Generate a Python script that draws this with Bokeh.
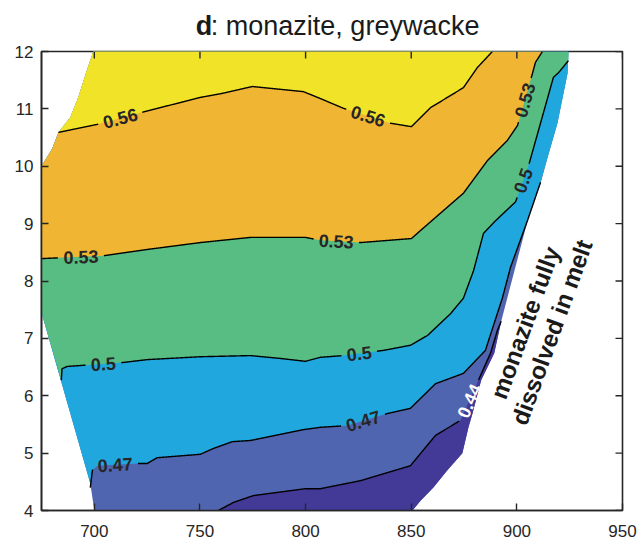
import numpy as np
from bokeh.plotting import figure
from bokeh.layouts import column
from bokeh.models import Range1d, FixedTicker
from bokeh.core.properties import value
from bokeh.embed import file_html
from bokeh.resources import INLINE

# ---- data: temperature (deg C) and pressure (kbar) ----
x_ticks = [700, 750, 800, 850, 900, 950]
y_ticks = [4, 5, 6, 7, 8, 9, 10, 11, 12]

# outline of the field where monazite is stable (clockwise)
domain_T = [700.0, 698.1, 675.0, 675.0, 680.1, 683.0, 688.6, 692.4, 695.7, 699.5,
            924.4, 924.0, 919.2, 914.5, 911.2, 905.5, 892.6, 889.3, 883.1, 879.0,
            877.1, 874.2, 867.1, 860.5, 854.4, 850.6, 700.0]
domain_P = [4.0, 4.47, 7.45, 10.0, 10.31, 10.59, 10.85, 11.20, 11.58, 12.0,
            12.0, 11.62, 10.75, 10.15, 9.70, 9.11, 7.30, 6.74, 6.27, 5.69,
            5.45, 5.0, 4.70, 4.40, 4.17, 4.0, 4.0]

levels = [0.44, 0.47, 0.5, 0.53, 0.56]

c044_T = [758.7, 765.8, 775.3, 799.9, 807.0, 826.0, 849.6, 861.5, 873.3, 887.5, 890.8, 892.6]
c044_P = [4.0, 4.14, 4.26, 4.38, 4.38, 4.52, 4.78, 5.31, 5.57, 6.74, 7.14, 7.30]

c047_T = [698.1, 699.1, 701.4, 720.4, 725.1, 729.8, 750.2, 756.3, 765.3, 773.9, 799.0,
          807.0, 819.8, 838.7, 849.6, 861.5, 874.7, 885.1, 893.2, 897.0, 905.0, 911.2]
c047_P = [4.40, 4.70, 4.78, 4.82, 4.82, 4.92, 4.98, 5.08, 5.20, 5.22, 5.41,
          5.45, 5.48, 5.69, 5.78, 6.21, 6.39, 6.79, 7.71, 8.24, 9.05, 9.72]

c050_T = [684.4, 684.7, 687.1, 713.7, 725.1, 750.2, 773.9, 788.1, 799.9, 807.0, 817.9, 836.8,
          849.6, 857.7, 868.6, 874.7, 879.5, 884.2, 889.9, 899.4, 906.0, 917.3, 919.7, 924.4]
c050_P = [6.27, 6.47, 6.51, 6.58, 6.63, 6.68, 6.70, 6.65, 6.60, 6.67, 6.70, 6.79,
          6.88, 7.05, 7.43, 7.70, 8.18, 8.83, 9.05, 9.38, 10.07, 11.55, 11.63, 11.84]

c053_T = [675.0, 704.3, 725.1, 750.2, 773.9, 799.9, 807.0, 826.0, 850.1, 854.4,
          874.7, 886.1, 895.5, 900.3, 907.4, 908.8, 912.1]
c053_P = [8.39, 8.44, 8.55, 8.67, 8.76, 8.76, 8.71, 8.67, 8.74, 8.88,
          9.53, 10.10, 10.45, 10.71, 11.62, 11.81, 12.0]

c056_T = [683.0, 701.4, 720.4, 750.2, 760.6, 774.8, 799.0, 807.0, 817.9, 840.2,
          850.1, 859.1, 874.7, 881.3, 888.4]
c056_P = [10.59, 10.73, 10.92, 11.20, 11.27, 11.39, 11.30, 11.18, 11.01, 10.75,
          10.69, 11.02, 11.37, 11.72, 12.0]

# inline contour labels
label_level = [0.56, 0.56, 0.53, 0.53, 0.53, 0.5, 0.5, 0.5, 0.47, 0.47, 0.44]
label_T = [712.3, 829.3, 693.8, 814.5, 904.1, 704.3, 825.5, 903.1, 709.9, 827.4, 876.6]
label_P = [10.83, 10.85, 8.39, 8.67, 11.15, 6.53, 6.67, 9.75, 4.75, 5.53, 5.92]

band_colors = ["#433996", "#5065B0", "#20A8DE", "#57BD82", "#F0B532", "#F1E428"]

# ---- layout ----
W = 640
TITLE_H = 41
H = 540 - TITLE_H
BL, BR, BT, BB = 41, 18, 10, 30
X0, X1, Y0, Y1 = 675, 950, 4, 12
SX = (W - BL - BR) / (X1 - X0)   # px per deg C
SY = (H - BT - BB) / (Y1 - Y0)   # px per kbar
TICK = 7                          # inward tick length, px

contours = {0.44: (c044_T, c044_P), 0.47: (c047_T, c047_P), 0.5: (c050_T, c050_P),
            0.53: (c053_T, c053_P), 0.56: (c056_T, c056_P)}

bx = np.array(domain_T)
by = np.array(domain_P)
seg = np.hypot(np.diff(bx) * SX, np.diff(by) * SY)
cum = np.concatenate([[0.0], np.cumsum(seg)])


def locate(x, y):
    """Arc-length position of a point projected onto the domain outline."""
    best_d, best_s = None, 0.0
    for i in range(len(bx) - 1):
        ax, ay = bx[i] * SX, by[i] * SY
        dx, dy = (bx[i + 1] - bx[i]) * SX, (by[i + 1] - by[i]) * SY
        t = np.clip(((x * SX - ax) * dx + (y * SY - ay) * dy) / (dx * dx + dy * dy), 0, 1)
        d = np.hypot(ax + t * dx - x * SX, ay + t * dy - y * SY)
        if best_d is None or d < best_d:
            best_d, best_s = d, cum[i] + t * seg[i]
    return best_s


def upper_region(cx, cy):
    sa, sb = locate(cx[0], cy[0]), locate(cx[-1], cy[-1])
    idx = np.where((cum > sa + 1e-6) & (cum < sb - 1e-6))[0][::-1]
    return list(cx) + list(bx[idx]), list(cy) + list(by[idx])


def lower_region(cx, cy):
    sa, sb = locate(cx[0], cy[0]), locate(cx[-1], cy[-1])
    idx = np.where((cum > sb + 1e-6) & (cum < sa - 1e-6))[0]
    return list(cx) + list(bx[idx]), list(cy) + list(by[idx])


# filled bands, painted from the bottom layer up
xs, ys, cols = [list(bx)], [list(by)], [band_colors[1]]
rx, ry = lower_region(*contours[0.44])
xs.append(rx); ys.append(ry); cols.append(band_colors[0])
for k, lev in enumerate([0.47, 0.5, 0.53, 0.56]):
    rx, ry = upper_region(*contours[lev])
    xs.append(rx); ys.append(ry); cols.append(band_colors[k + 2])


def densify(xv, yv, step=0.5):
    px, py = np.asarray(xv) * SX, np.asarray(yv) * SY
    ox, oy = [px[0]], [py[0]]
    for i in range(len(px) - 1):
        d = np.hypot(px[i + 1] - px[i], py[i + 1] - py[i])
        n = max(1, int(np.ceil(d / step)))
        t = np.arange(1, n + 1) / n
        ox.extend(px[i] + t * (px[i + 1] - px[i]))
        oy.extend(py[i] + t * (py[i + 1] - py[i]))
    return np.array(ox), np.array(oy)


LABEL_PX = 18
line_x, line_y = [], []
lab_x, lab_y, lab_ang, lab_txt, lab_col = [], [], [], [], []
for lev in levels:
    dx, dy = densify(*contours[lev])
    keep = np.ones(len(dx), bool)
    for lv, lt, lp in zip(label_level, label_T, label_P):
        if lv != lev:
            continue
        i = int(np.argmin(np.hypot(dx - lt * SX, dy - lp * SY)))
        a, b = max(i - 16, 0), min(i + 16, len(dx) - 1)
        ang = np.arctan2(dy[b] - dy[a], dx[b] - dx[a])
        if ang > np.pi / 2:
            ang -= np.pi
        if ang < -np.pi / 2:
            ang += np.pi
        txt = f"{lev:g}"
        width = LABEL_PX * sum(0.278 if c == "." else 0.556 for c in txt)
        keep &= np.hypot(dx - dx[i], dy - dy[i]) > width / 2 + 5
        lab_x.append(dx[i] / SX); lab_y.append(dy[i] / SY)
        lab_ang.append(ang); lab_txt.append(txt)
        lab_col.append("white" if lev == 0.44 else "#262626")
    line_x.append(np.where(keep, dx / SX, np.nan))
    line_y.append(np.where(keep, dy / SY, np.nan))

AX_COL = "#262626"
FONT = "Liberation Sans"

p = figure(width=W, height=H, x_range=Range1d(X0, X1), y_range=Range1d(Y0, Y1),
           output_backend="svg", toolbar_location=None,
           min_border_left=BL, min_border_right=BR, min_border_top=BT, min_border_bottom=BB)
p.grid.visible = False
p.outline_line_color = AX_COL
p.outline_line_width = 1.6
p.outline_line_alpha = 1.0

p.patches(xs, ys, fill_color=cols, line_color=None)
for gx, gy in zip(line_x, line_y):
    p.line(gx, gy, line_color="black", line_width=1.4)

p.text(x=lab_x, y=lab_y, text=lab_txt, angle=lab_ang, text_color=lab_col,
       text_font=value(FONT), text_font_style="bold",
       text_font_size=f"{LABEL_PX}px", text_align="center", text_baseline="middle")

p.text(x=[910.2], y=[7.19], text=["monazite fully\ndissolved in melt"], angle=np.deg2rad(70),
       text_color="#1a1a1a", text_font=value(FONT), text_font_style="bold",
       text_font_size="24px", text_align="center", text_baseline="middle",
       text_line_height=1.05)

# inward ticks on the top and right edges of the box
p.segment(x0=x_ticks, y0=[Y1] * len(x_ticks), x1=x_ticks, y1=[Y1 - TICK / SY] * len(x_ticks),
          line_color=AX_COL, line_width=1.4)
p.segment(x0=[X1] * len(y_ticks), y0=y_ticks, x1=[X1 - TICK / SX] * len(y_ticks), y1=y_ticks,
          line_color=AX_COL, line_width=1.4)

for ax in (p.xaxis[0], p.yaxis[0]):
    ax.major_tick_in = TICK
    ax.major_tick_out = 0
    ax.minor_tick_in = 0
    ax.minor_tick_out = 0
    ax.axis_line_color = AX_COL
    ax.axis_line_width = 1.6
    ax.major_tick_line_color = AX_COL
    ax.major_tick_line_width = 1.4
    ax.major_label_text_font = FONT
    ax.major_label_text_color = AX_COL
    ax.major_label_text_font_size = "17px"
p.yaxis.major_label_standoff = 8
p.xaxis.major_label_standoff = 14
p.xaxis.ticker = FixedTicker(ticks=x_ticks)
p.yaxis.ticker = FixedTicker(ticks=y_ticks)

# title strip: bold panel letter followed by plain text
t = figure(width=W, height=TITLE_H, x_range=Range1d(0, W), y_range=Range1d(0, TITLE_H),
           output_backend="svg", toolbar_location=None, min_border=0, title=None,
           x_axis_location=None, y_axis_location=None)
t.grid.visible = False
t.outline_line_color = None
t.text(x=[170], y=[TITLE_H - 25.6], text=["d"], text_font=value(FONT), text_font_style="bold",
       text_font_size="27px", text_color="#1a1a1a", text_baseline="middle")
t.text(x=[186.5], y=[TITLE_H - 25.6], text=[": monazite, greywacke"], text_font=value(FONT),
       text_font_size="27px", text_color="#1a1a1a", text_baseline="middle")

open("out.html", "w").write(file_html(column(t, p, spacing=0), INLINE))
